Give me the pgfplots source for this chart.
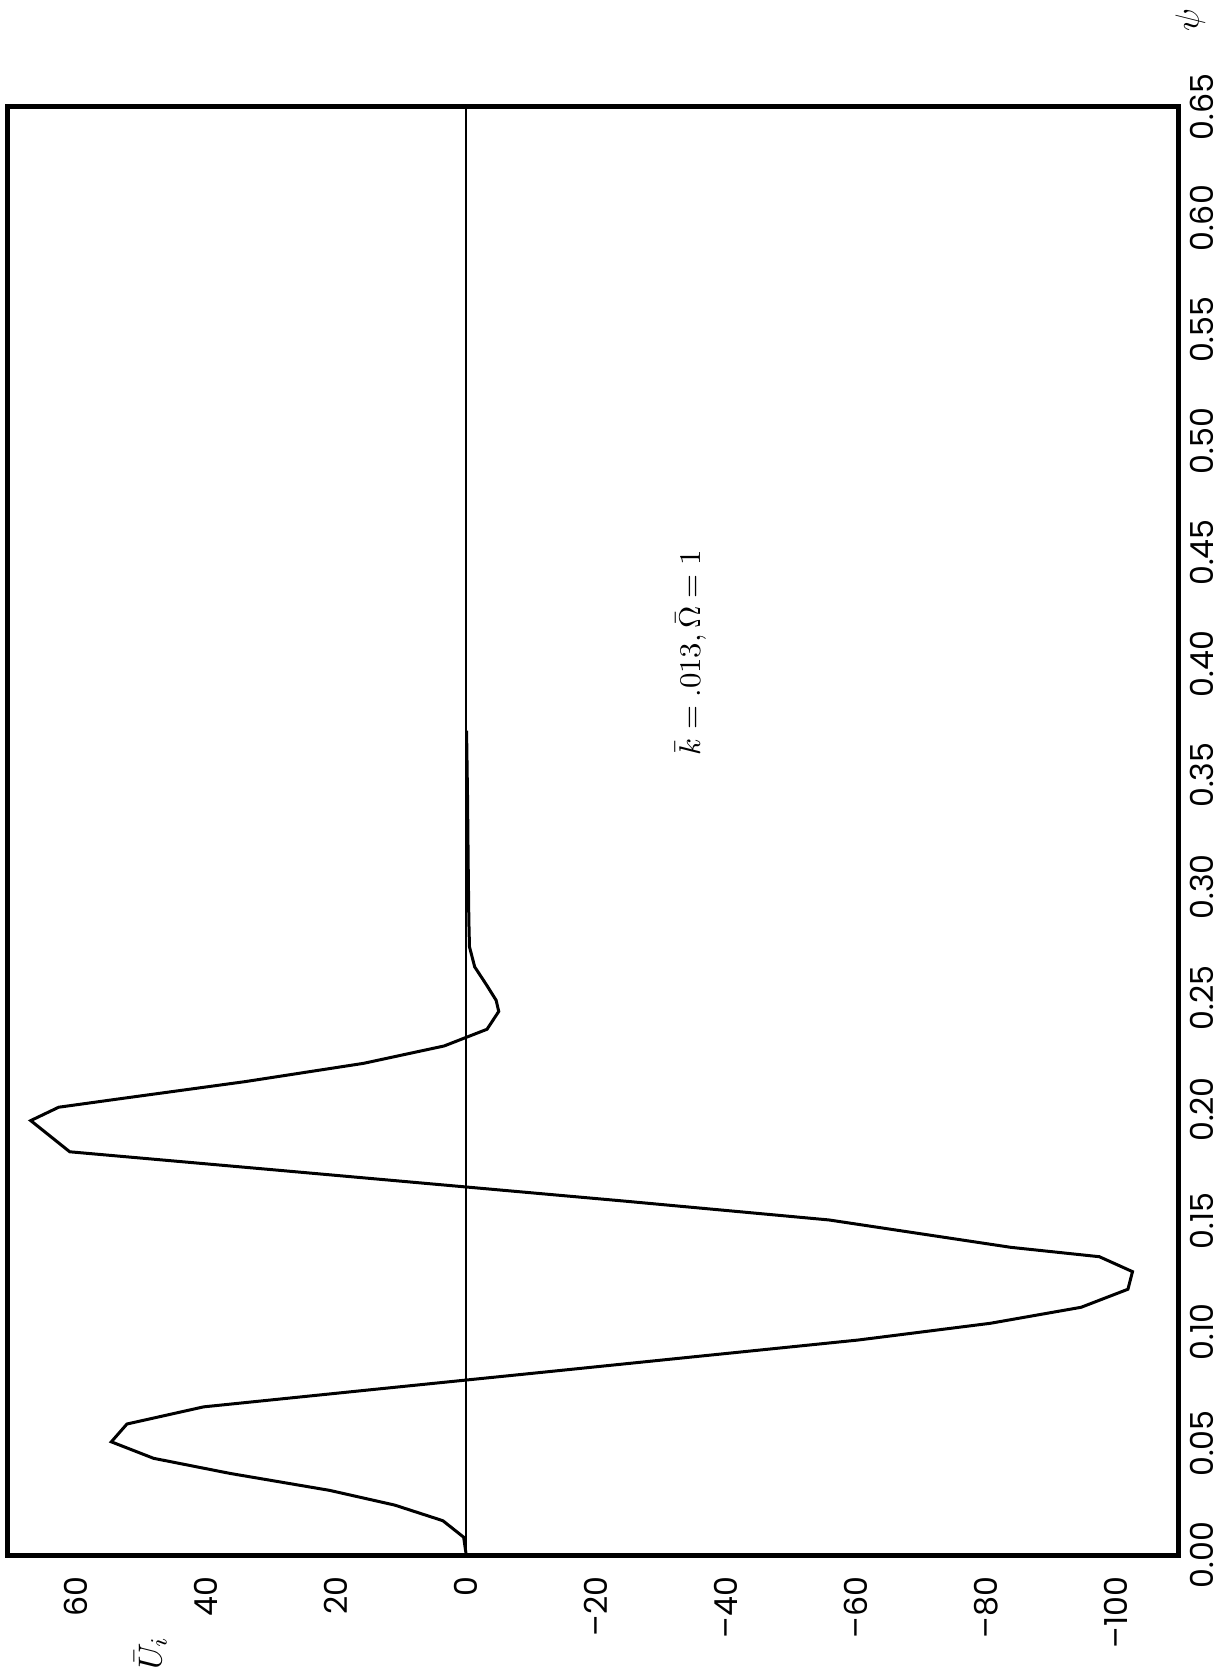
\documentclass[border=0pt]{standalone}
\usepackage{pgfplots}
\pgfplotsset{compat=1.18}
\usepackage{fontspec}
\newfontfamily\tickfont{Poppins}

% Induced velocity distribution along the azimuth, drawn turned on its side:
% horizontal axis = \bar U_i (reversed), vertical axis = psi.
\pgfplotstableread{
U psi
0.0 0.0000
0.4 0.0080
3.6 0.0154
11.0 0.0224
21.0 0.0290
36.3 0.0366
48.1 0.0434
54.6 0.0508
52.2 0.0588
40.4 0.0665
15.3 0.0740
-8.3 0.0810
-35.1 0.0890
-60.3 0.0965
-80.6 0.1040
-94.6 0.1112
-101.8 0.1193
-102.5 0.1272
-97.4 0.1339
-83.8 0.1381
-55.8 0.1504
-24.2 0.1589
30.0 0.1730
61.0 0.1810
67.0 0.1950
62.7 0.2010
52.8 0.2050
34.0 0.2125
15.8 0.2207
3.4 0.2285
-3.2 0.2360
-5.0 0.2440
-4.6 0.2490
-3.1 0.2560
-1.3 0.2640
-0.5 0.2730
-0.4 0.2850
-0.3 0.3100
-0.2 0.3400
-0.05 0.3700
}\induced

\begin{document}
\begin{tikzpicture}
\begin{axis}[
  scale only axis,
  width=351pt, height=434.4pt,
  x dir=reverse,
  xmin=-109.5, xmax=70.5,
  ymin=0, ymax=0.65,
  clip=false,
  axis line style={line width=1.5pt},
  major tick length=0pt,
  xtick={60,40,20,0,-20,-40,-60,-80,-100},
  xticklabels={60,40,20,0,–20,–40,–60,–80,–100},
  ytick={0,0.05,0.10,0.15,0.20,0.25,0.30,0.35,0.40,0.45,0.50,0.55,0.60,0.65},
  yticklabels={0.00,0.05,0.10,0.15,0.20,0.25,0.30,0.35,0.40,0.45,0.50,0.55,0.60,0.65},
  yticklabel pos=right,
  xticklabel shift=3pt,
  xticklabel style={rotate=90, anchor=east, font=\tickfont\fontsize{9.5}{11}\selectfont},
  yticklabel style={rotate=90, anchor=north, font=\tickfont\fontsize{9.5}{11}\selectfont},
]
  % zero reference line
  \addplot[black, line width=0.6pt] coordinates {(0,0) (0,0.65)};
  % computed distribution
  \addplot[black, line width=0.9pt] table[x=U, y=psi] {\induced};

  \node[rotate=90, font=\fontsize{9.5}{11}\selectfont] at (axis cs:-34.5,0.405)
    {$\bar{k} = .013, \bar{\Omega} = 1$};
  \node[rotate=90, font=\fontsize{10}{12}\selectfont] at (axis cs:-111.4,0.689) {$\psi$};
  \node[rotate=90, font=\fontsize{10}{12}\selectfont] at (axis cs:48.6,-0.044) {$\bar{U}_i$};

  \coordinate (bl) at (axis cs:70.5,0);
  \coordinate (tr) at (axis cs:-109.5,0.65);
\end{axis}
\pgfresetboundingbox
\path[use as bounding box] ([xshift=-2.4pt, yshift=-36.3pt]bl) rectangle ([xshift=12.9pt, yshift=32.1pt]tr);
\end{tikzpicture}
\end{document}
